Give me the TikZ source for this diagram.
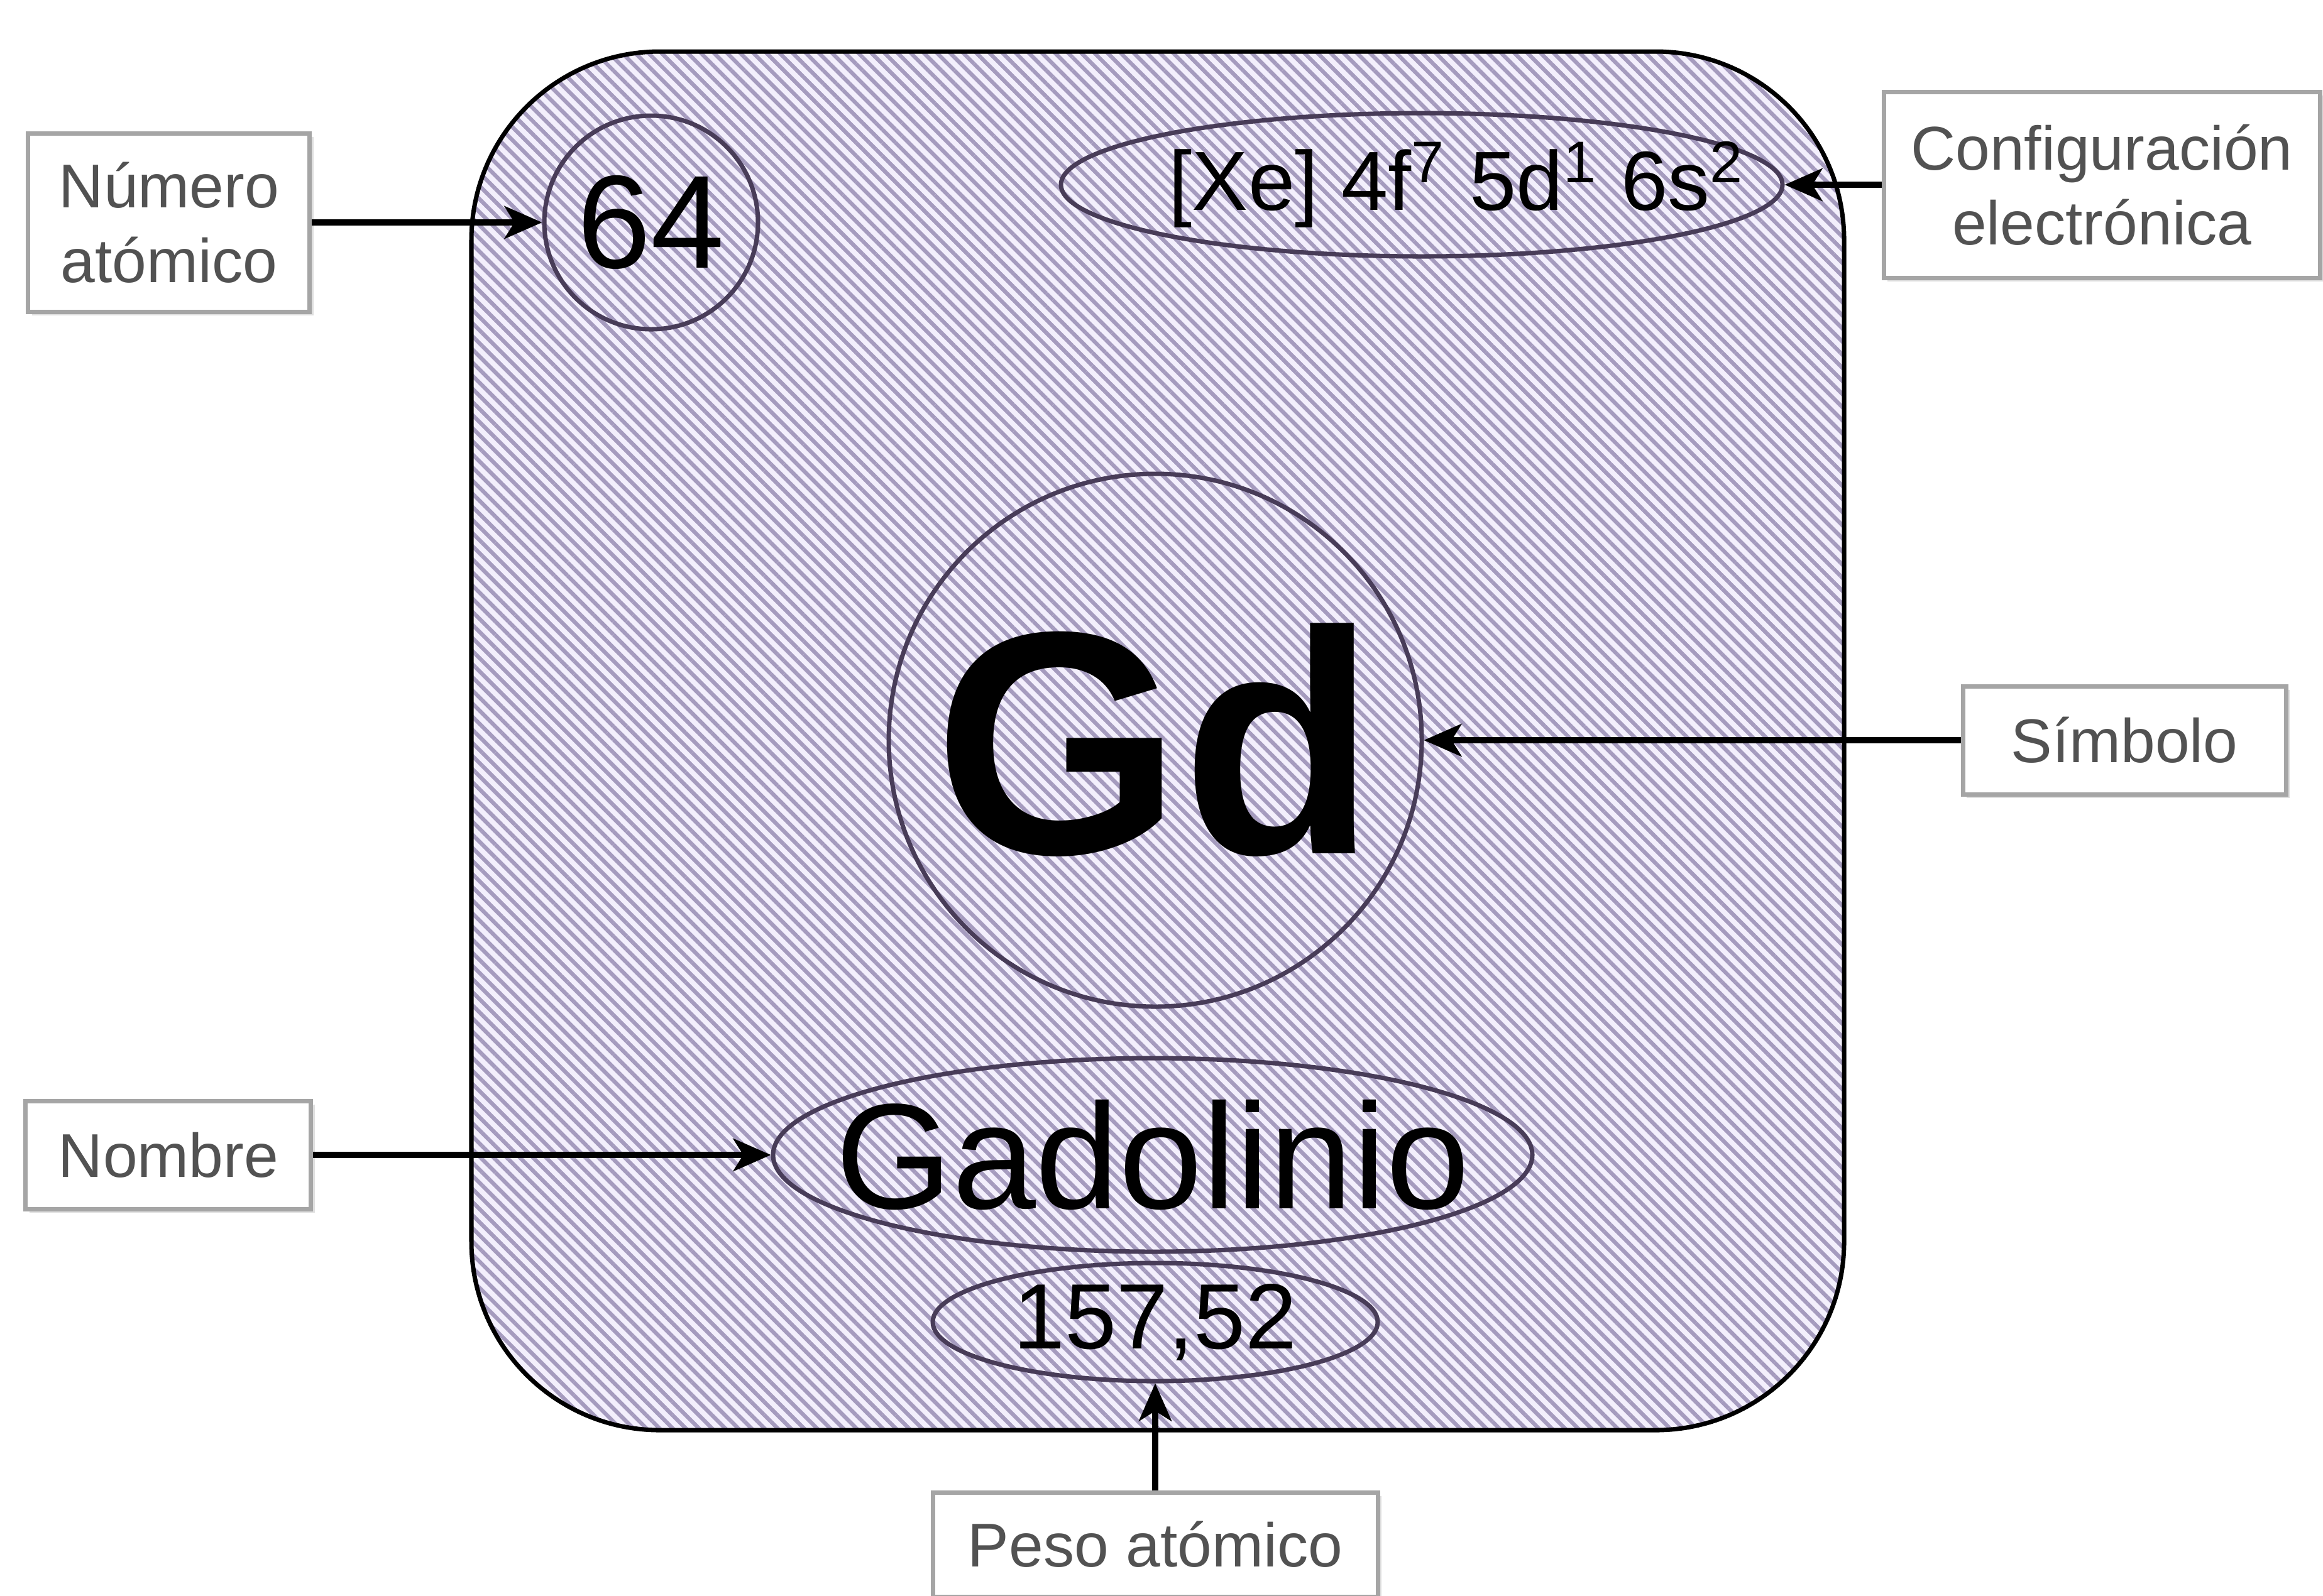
\documentclass[tikz,border=0pt]{standalone}
\usepackage{fontspec}
\setmainfont{Liberation Sans}
\usetikzlibrary{positioning, arrows.meta, shapes.geometric, patterns.meta, shadows}
\definecolor{tilebg}{RGB}{243,239,252}
\definecolor{tileline}{RGB}{165,155,190}
\definecolor{ovalline}{RGB}{72,60,88}
\definecolor{lbltext}{RGB}{82,82,82}
\definecolor{lblline}{RGB}{165,165,165}

\begin{document}
\begin{tikzpicture}[
      tile/.style={draw=black, line width=1pt, rounded corners=1.5cm,
                   preaction={fill=tilebg},
                   pattern={Lines[angle=-45, distance=2.1pt, line width=0.9pt]},
                   pattern color=tileline},
      lbl/.style={draw=lblline, line width=1pt, fill=white, text=lbltext,
                  font=\fontsize{14}{17}\selectfont, align=center, inner sep=2pt,
                  drop shadow={shadow xshift=0.03cm, shadow yshift=-0.03cm, opacity=0.25}},
      oval/.style={ellipse, draw=ovalline, line width=1pt, inner sep=0pt},
      ring/.style={circle, draw=ovalline, line width=1pt, inner sep=0pt},
      arr/.style={-{Stealth[length=0.3cm, width=0.26cm, inset=0.08cm]}, line width=1.3pt},
]
      \useasboundingbox (0,0) rectangle (18.48,-12.695);
      \fill[white] (0,0) rectangle (18.48,-12.695);

      % the element tile
      \node[tile, minimum width=10.92cm, minimum height=10.97cm] (gdtile) at (9.21,-5.895) {};

      % marked fields
      \node[ring, minimum size=1.7cm] (anum) at (5.18,-1.77) {};
      \node[font=\fontsize{30}{30}\selectfont] (anumtxt) at (anum) {64};
      \node[oval, minimum width=5.74cm, minimum height=1.14cm] (conf) at (11.31,-1.47) {};
      \node[font=\fontsize{19}{19}\selectfont] (conftxt) at ([xshift=0.28cm]conf)
            {[Xe] 4f\textsuperscript{7} 5d\textsuperscript{1} 6s\textsuperscript{2}};
      \node[ring, minimum size=4.24cm] (sym) at (9.19,-5.89) {};
      \node[font=\fontsize{72}{72}\selectfont\bfseries] (symtxt) at (sym) {Gd};
      \node[oval, minimum width=6.04cm, minimum height=1.54cm] (gdname) at (9.17,-9.19) {};
      \node[font=\fontsize{34}{34}\selectfont] (gdnametxt) at (gdname) {Gadolinio};
      \node[oval, minimum width=3.54cm, minimum height=0.94cm] (wt) at (9.19,-10.52) {};
      \node[font=\fontsize{21}{21}\selectfont] (wttxt) at (wt) {157,52};

      % labels
      \node[lbl, minimum width=2.24cm, minimum height=1.42cm, left=1.83cm of anum] (numlbl) {Número\\atómico};
      \node[lbl, minimum width=3.47cm, minimum height=1.48cm, right=0.77cm of conf] (conflbl) {Configuración\\electrónica};
      \node[lbl, minimum width=2.57cm, minimum height=0.86cm, right=4.27cm of sym] (symlbl) {Símbolo};
      \node[lbl, minimum width=2.27cm, minimum height=0.86cm, left=3.64cm of gdname] (nomlbl) {Nombre};
      \node[lbl, minimum width=3.54cm, minimum height=0.83cm, below=0.85cm of wt] (pesolbl) {Peso atómico};

      \draw[arr] (numlbl) -- (anum);
      \draw[arr] (conflbl) -- (conf);
      \draw[arr] (symlbl) -- (sym);
      \draw[arr] (nomlbl) -- (gdname);
      \draw[arr] (pesolbl) -- (wt);
\end{tikzpicture}
\end{document}
